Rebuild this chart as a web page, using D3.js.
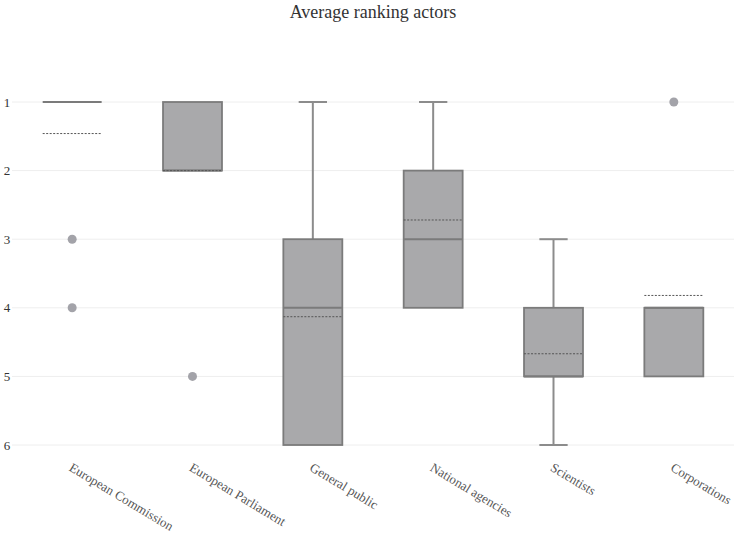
<!DOCTYPE html>
<html>
<head>
<meta charset="utf-8">
<script src="https://cdn.jsdelivr.net/npm/d3@7"></script>
<style>
  body { margin: 0; background: #fff; }
  svg { display: block; font-family: "Liberation Serif", "Times New Roman", serif; }
</style>
</head>
<body>
<svg id="chart"></svg>
<script>
// box statistics per actor (rank 1 = best)
const actors = ["European Commission", "European Parliament", "General public", "National agencies", "Scientists", "Corporations"];
const lowerWhisker = [1, 1, 1, 1, 3, 4];
const q1 = [1, 1, 3, 2, 4, 4];
const median = [1, 2, 4, 3, 5, 4];
const q3 = [1, 2, 6, 4, 5, 5];
const upperWhisker = [1, 2, 6, 4, 6, 5];
const means = [1.46, 2.0, 4.13, 2.72, 4.67, 3.82];
const outliers = [[3, 4], [5], [], [], [], [1]];
const yTicks = [1, 2, 3, 4, 5, 6];

const width = 734, height = 545;
const margin = { top: 102, right: 0, bottom: 100, left: 12 };

const boxFill = "#a9a9ab";
const boxLine = "#7b7b7b";
const whiskerLine = "#8c8c8c";

const svg = d3.select("#chart")
  .attr("width", width)
  .attr("height", height);

const x = d3.scaleBand()
  .domain(actors)
  .range([margin.left, width - margin.right])
  .padding(0);

const y = d3.scaleLinear()
  .domain([1, 6])
  .range([margin.top, height - margin.bottom]);

// title
svg.append("text")
  .attr("x", width / 2 + 6)
  .attr("y", 18)
  .attr("text-anchor", "middle")
  .attr("font-size", 18)
  .attr("fill", "#333")
  .text("Average ranking actors");

// gridlines + y labels
svg.append("g")
  .selectAll("line")
  .data(yTicks)
  .join("line")
    .attr("x1", margin.left)
    .attr("x2", width)
    .attr("y1", d => y(d))
    .attr("y2", d => y(d))
    .attr("stroke", "#eeeeee")
    .attr("stroke-width", 1);

svg.append("g")
  .selectAll("text")
  .data(yTicks)
  .join("text")
    .attr("x", 7)
    .attr("y", d => y(d))
    .attr("dy", "0.35em")
    .attr("text-anchor", "middle")
    .attr("font-size", 13)
    .attr("fill", "#333")
    .text(d => d);

// x labels, rotated
svg.append("g")
  .selectAll("text")
  .data(actors)
  .join("text")
    .attr("transform", d => `translate(${x(d) + x.bandwidth() / 2 - 4}, ${height - margin.bottom + 25}) rotate(31)`)
    .attr("font-size", 13)
    .attr("fill", "#555")
    .text(d => d);

// boxes
const bw = x.bandwidth() * 0.49;
const capW = bw * 0.48;

svg.append("g")
  .selectAll("g")
  .data(actors)
  .join("g")
  .each(function(name, i) {
    const g = d3.select(this);
    const cx = x(name) + x.bandwidth() / 2;

    // whiskers
    const drawWhisker = (from, to) => {
      g.append("line")
        .attr("x1", cx).attr("x2", cx)
        .attr("y1", y(from)).attr("y2", y(to))
        .attr("stroke", whiskerLine).attr("stroke-width", 2);
      g.append("line")
        .attr("x1", cx - capW / 2).attr("x2", cx + capW / 2)
        .attr("y1", y(to)).attr("y2", y(to))
        .attr("stroke", whiskerLine).attr("stroke-width", 2);
    };
    if (upperWhisker[i] > q3[i]) drawWhisker(q3[i], upperWhisker[i]);
    if (lowerWhisker[i] < q1[i]) drawWhisker(q1[i], lowerWhisker[i]);

    // box
    g.append("rect")
      .attr("x", cx - bw / 2)
      .attr("width", bw)
      .attr("y", y(q1[i]))
      .attr("height", y(q3[i]) - y(q1[i]))
      .attr("fill", boxFill)
      .attr("stroke", boxLine)
      .attr("stroke-width", 1.8);

    // median
    g.append("line")
      .attr("x1", cx - bw / 2).attr("x2", cx + bw / 2)
      .attr("y1", y(median[i])).attr("y2", y(median[i]))
      .attr("stroke", boxLine).attr("stroke-width", 2);

    // mean (dashed)
    g.append("line")
      .attr("x1", cx - bw / 2).attr("x2", cx + bw / 2)
      .attr("y1", y(means[i])).attr("y2", y(means[i]))
      .attr("stroke", "#555")
      .attr("stroke-width", 1)
      .attr("stroke-dasharray", "2,1.5");

    // outliers
    g.selectAll("circle")
      .data(outliers[i])
      .join("circle")
        .attr("cx", cx)
        .attr("cy", d => y(d))
        .attr("r", 4.5)
        .attr("fill", "#a3a3a9");
  });
</script>
</body>
</html>
